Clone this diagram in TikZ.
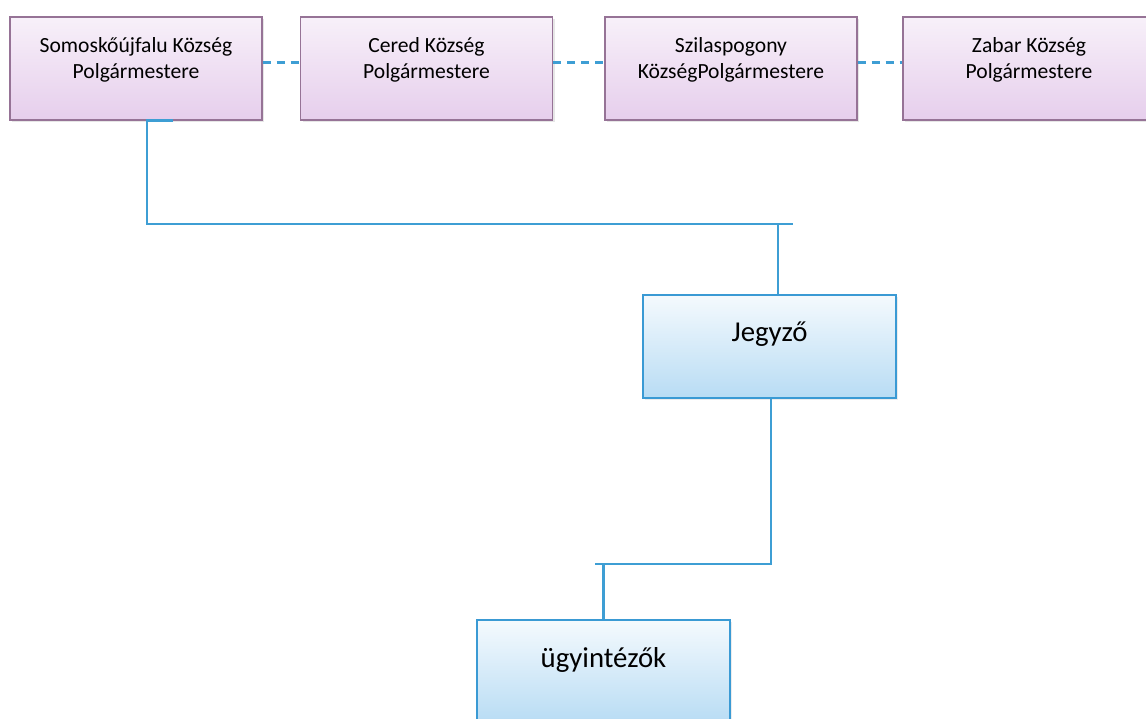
\documentclass[tikz,border=0pt]{standalone}
\usepackage{fontspec}
\setmainfont{Carlito}
\usetikzlibrary{shadows}

\definecolor{linkblue}{RGB}{62,158,212}
\definecolor{mayorline}{RGB}{150,115,150}
\definecolor{mayorfill}{RGB}{230,206,236}
\definecolor{officeline}{RGB}{58,154,212}
\definecolor{officefill}{RGB}{184,220,244}

\tikzset{
  mayor/.style={draw=mayorline, line width=0.6pt, top color=white!70!mayorfill, bottom color=mayorfill,
    minimum width=126pt, minimum height=51.5pt, inner sep=0pt,
    drop shadow={opacity=0.2, shadow xshift=1pt, shadow yshift=-1pt}},
  office/.style={draw=officeline, line width=0.8pt, top color=white!85!officefill, bottom color=officefill,
    minimum width=126.5pt, minimum height=51.5pt, inner sep=0pt,
    drop shadow={opacity=0.15, shadow xshift=0.8pt, shadow yshift=-0.8pt}},
  mayortext/.style={align=center, font=\fontsize{10.8}{13}\selectfont, yshift=4.5pt},
  officetext/.style={font=\fontsize{14.4}{17}\selectfont, yshift=6pt},
  link/.style={draw=linkblue, line width=1.2pt},
  peer/.style={draw=linkblue, line width=1.1pt, dash pattern=on 4pt off 3pt},
}

\begin{document}
\begin{tikzpicture}[x=0.5pt, y=-0.5pt]
  \useasboundingbox (0,0) rectangle (1146,718);

  % Define nodes
  \node[mayor, label={[name=smk-t, mayortext]center:Somoskőújfalu Község\\Polgármestere}] (smk) at (136,68.5) {};
  \node[mayor, label={[name=cer-t, mayortext]center:Cered Község\\Polgármestere}] (cer) at (426.5,68.5) {};
  \node[mayor, label={[name=szi-t, mayortext]center:Szilaspogony\\KözségPolgármestere}] (szi) at (731,68.5) {};
  \node[mayor, label={[name=zab-t, mayortext]center:Zabar Község\\Polgármestere}] (zab) at (1029,68.5) {};
  \node[office, label={[name=jeg-t, officetext]center:Jegyző}] (jeg) at (769.5,346.5) {};
  \node[office, label={[name=ugy-t, officetext]center:ügyintézők}] (ugy) at (603.5,671.5) {};
  \coordinate (bus) at (793,224);
  \coordinate (sub) at (595,564);

  % Connect the nodes
  \draw[peer] ([yshift=3pt]smk.east) -- ([yshift=3pt]cer.west);
  \draw[peer] ([yshift=3pt]cer.east) -- ([yshift=3pt]szi.west);
  \draw[peer] ([yshift=3pt]szi.east) -- ([yshift=3pt]zab.west);
  \draw[link] ([xshift=18.5pt]smk.south) -- ([xshift=5.5pt]smk.south) |- (bus);
  \draw[link] ([xshift=4.25pt]jeg.north) |- (bus);
  \draw[link] ([xshift=0.75pt]jeg.south) |- (sub);
  \draw[link] (ugy.north) -- (ugy.north |- sub);

\end{tikzpicture}
\end{document}
